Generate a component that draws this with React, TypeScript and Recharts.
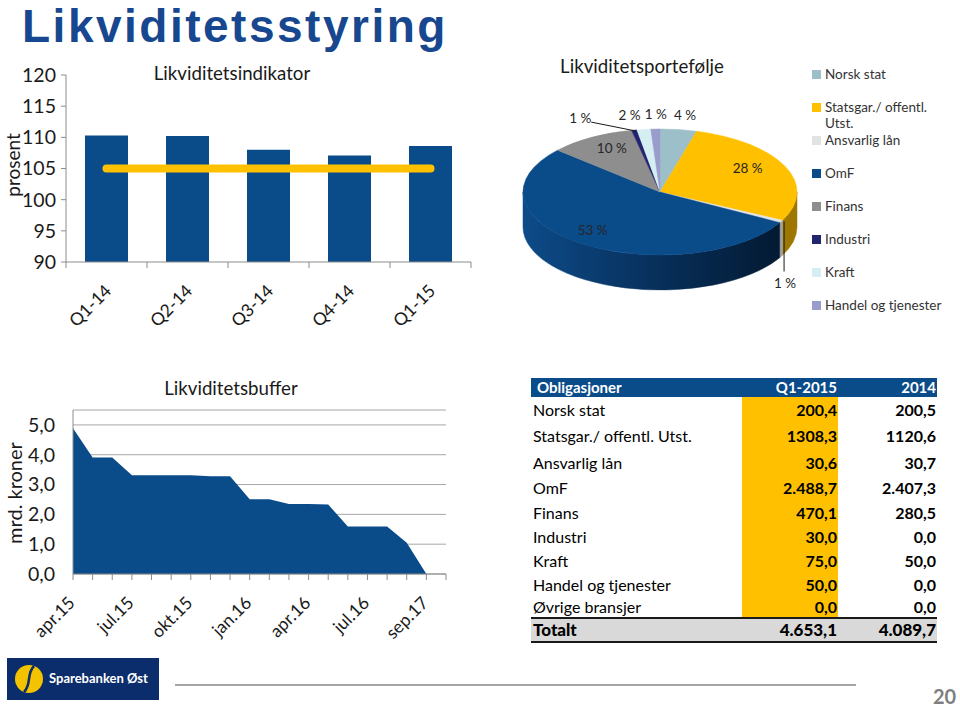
import React from 'react';
import {
  ComposedChart,
  Bar,
  Line,
  XAxis,
  YAxis,
  AreaChart,
  Area,
  CartesianGrid,
  PieChart,
  Pie,
  Legend
} from 'recharts';

// Likviditetsindikator (prosent)
const quarters = ['Q1-14', 'Q2-14', 'Q3-14', 'Q4-14', 'Q1-15'];
const indicatorValues = [110.3, 110.2, 108.0, 107.1, 108.6];
const indicatorTarget = [105, 105, 105, 105, 105];
const indicatorTicks = [90, 95, 100, 105, 110, 115, 120];

// Likviditetsbuffer (mrd. kroner)
const bufferMonths = [
  'apr.15', 'mai.15', 'jun.15', 'jul.15', 'aug.15', 'sep.15', 'okt.15',
  'nov.15', 'des.15', 'jan.16', 'feb.16', 'mar.16', 'apr.16', 'mai.16',
  'jun.16', 'jul.16', 'aug.16', 'sep.16', 'sep.17', 'okt.17'
];
const bufferValues = [
  4.89, 3.91, 3.91, 3.31, 3.31, 3.31, 3.31, 3.28, 3.28, 2.51,
  2.51, 2.35, 2.35, 2.33, 1.59, 1.59, 1.59, 1.05, 0, null
];
const bufferTicks = [0, 1, 2, 3, 4, 5];

// Likviditetsportefølje
const portfolioNames = [
  'Norsk stat',
  'Statsgar./ offentl. Utst.',
  'Ansvarlig lån',
  'OmF',
  'Finans',
  'Industri',
  'Kraft',
  'Handel og tjenester'
];
const portfolioValues = [200.4, 1308.3, 30.6, 2488.7, 470.1, 30.0, 75.0, 50.0];
const portfolioColors = ['#9DBFCA', '#FFC000', '#E2E2E2', '#0A4B8A', '#8E8E8E', '#23246E', '#D5EEF2', '#9A9CCB'];
const portfolioWallColors = ['#6E8E98', '#9E7700', '#A3A3A3', 'url(#omfWall)', '#5E5E5E', '#141540', '#9DB4B8', '#6A6C9A'];

// Obligasjoner table
const tableLabels = [...portfolioNames, 'Øvrige bransjer'];
const tableQ1 = ['200,4', '1308,3', '30,6', '2.488,7', '470,1', '30,0', '75,0', '50,0', '0,0'];
const table2014 = ['200,5', '1120,6', '30,7', '2.407,3', '280,5', '0,0', '50,0', '0,0', '0,0'];
const tableTotals = ['4.653,1', '4.089,7'];
const tableRowHeights = [26, 26, 27, 24, 25, 24, 24, 24, 20];

const FONT = 'Lato, "Open Sans", sans-serif';
const BLUE = '#0A4B8A';
const YELLOW = '#FFC000';
const AXIS_GRAY = '#8C8C8C';
const TEXT = '#1A1A1A';

// pie geometry (3D look: ellipse + side wall)
const PIE_RX = 137;
const PIE_RY = 63;
const PIE_DEPTH = 35;

const ell = (cx: number, cy: number, deg: number, k = 1) => {
  const r = (deg * Math.PI) / 180;
  return [cx + PIE_RX * k * Math.cos(r), cy - PIE_RY * k * Math.sin(r)];
};

const Slice3D = (props: any) => {
  const { cx, cy, startAngle, endAngle, fill } = props;
  if (startAngle === undefined || endAngle === undefined) return null;
  const [x1, y1] = ell(cx, cy, startAngle);
  const [x2, y2] = ell(cx, cy, endAngle);
  const large = Math.abs(startAngle - endAngle) > 180 ? 1 : 0;
  const sweep = endAngle < startAngle ? 1 : 0;
  const top = `M${cx},${cy} L${x1},${y1} A${PIE_RX},${PIE_RY} 0 ${large} ${sweep} ${x2},${y2} Z`;

  const wallColor = portfolioWallColors[portfolioColors.indexOf(fill)] || fill;
  const lo = Math.min(startAngle, endAngle);
  const hi = Math.max(startAngle, endAngle);
  const walls: string[] = [];
  [[-180, 0], [180, 360], [-540, -360]].forEach(([a0, b0]) => {
    const a = Math.max(lo, a0);
    const b = Math.min(hi, b0);
    if (b - a > 0.01) {
      const [bx, by] = ell(cx, cy, b);
      const [ax, ay] = ell(cx, cy, a);
      const lg = b - a > 180 ? 1 : 0;
      walls.push(
        `M${bx},${by} A${PIE_RX},${PIE_RY} 0 ${lg} 1 ${ax},${ay} L${ax},${ay + PIE_DEPTH} A${PIE_RX},${PIE_RY} 0 ${lg} 0 ${bx},${by + PIE_DEPTH} Z`
      );
    }
  });

  return (
    <g>
      {walls.map((d, i) => (
        <path key={i} d={d} fill={wallColor} stroke={wallColor} strokeWidth={0.5} />
      ))}
      <path d={top} fill={fill} stroke={fill} strokeWidth={0.5} />
    </g>
  );
};

// label placement per slice (radial factor on the ellipse, or leader line)
const pieLabelStyle: any[] = [
  { k: 1.14, dx: 4 },
  { k: 0.7 },
  { leader: 'down' },
  { k: 0.85 },
  { k: 0.7 },
  { leader: 'left' },
  { k: 1.14, dx: -12 },
  { k: 1.14, dx: 1 }
];

const renderPieLabel = (props: any) => {
  const { cx, cy, midAngle, percent } = props;
  const idx = props.index ?? portfolioNames.indexOf(props.name);
  const cfg = pieLabelStyle[idx] || { k: 0.7 };
  const text = `${Math.round(percent * 100)} %`;
  const common = { fontSize: 13.5, fill: '#262626', fontFamily: FONT, textAnchor: 'middle' as const, dominantBaseline: 'central' as const };

  if (cfg.leader === 'down') {
    const [px, py] = ell(cx, cy, midAngle);
    return (
      <g>
        <line x1={px + 3} y1={py} x2={px + 3} y2={py + 50} stroke="#1A1A1A" strokeWidth={1} />
        <text x={px + 4} y={py + 62} {...common}>{text}</text>
      </g>
    );
  }
  if (cfg.leader === 'left') {
    const [px, py] = ell(cx, cy, midAngle);
    return (
      <g>
        <line x1={px - 43} y1={py - 8} x2={px + 2} y2={py + 1} stroke="#1A1A1A" strokeWidth={1} />
        <text x={px - 54} y={py - 12} {...common}>{text}</text>
      </g>
    );
  }
  const [x, y] = ell(cx, cy, midAngle, cfg.k);
  return (
    <text x={x + (cfg.dx || 0)} y={y - 6} {...common}>{text}</text>
  );
};

const PortfolioLegend = ({ payload }: any) => {
  const items = [...(payload || [])].sort(
    (a: any, b: any) => portfolioNames.indexOf(a.value) - portfolioNames.indexOf(b.value)
  );
  return (
    <div style={{ width: 148, fontFamily: FONT }}>
      {items.map((p: any) => (
        <div
          key={p.value}
          style={{ display: 'flex', alignItems: 'flex-start', height: 33, fontSize: 13.5, lineHeight: '16px', color: '#333' }}
        >
          <span style={{ width: 9, height: 9, background: p.color, marginTop: 4, marginRight: 4, flex: 'none' }} />
          <span style={{ maxWidth: 120 }}>{p.value}</span>
        </div>
      ))}
    </div>
  );
};

const QUARTER_HALF = (471 - 66) / quarters.length / 2;

const QuarterTick = (props: any) => {
  const { x, y, payload, index } = props;
  const half = payload?.offset || QUARTER_HALF;
  return (
    <g>
      <line x1={x - half} y1={y} x2={x - half} y2={y + 6} stroke={AXIS_GRAY} />
      {index === quarters.length - 1 && (
        <line x1={x + half} y1={y} x2={x + half} y2={y + 6} stroke={AXIS_GRAY} />
      )}
      <text
        x={x + 6}
        y={y + 30}
        transform={`rotate(-45, ${x + 6}, ${y + 30})`}
        textAnchor="end"
        fontSize={17.5}
        fill={TEXT}
        fontFamily={FONT}
      >
        {payload.value}
      </text>
    </g>
  );
};

const MonthTick = (props: any) => {
  const { x, y, payload, index } = props;
  return (
    <g>
      <line x1={x} y1={y} x2={x} y2={y + 6} stroke={AXIS_GRAY} />
      {index % 3 === 0 && (
        <text
          x={x + 3}
          y={y + 30}
          transform={`rotate(-45, ${x + 3}, ${y + 30})`}
          textAnchor="end"
          fontSize={17.5}
          fill={TEXT}
          fontFamily={FONT}
        >
          {payload.value}
        </text>
      )}
    </g>
  );
};

const Txt = ({ x, y, size = 18.7, rotate = 0, children, style }: any) => (
  <div
    style={{
      position: 'absolute',
      left: x,
      top: y,
      transform: `translate(-50%, -50%) rotate(${rotate}deg)`,
      fontSize: size,
      lineHeight: 1,
      whiteSpace: 'nowrap',
      color: TEXT,
      ...style
    }}
  >
    {children}
  </div>
);

const App = () => {
  const indicatorData = quarters.map((q, i) => ({
    quarter: q,
    value: indicatorValues[i],
    target: indicatorTarget[i]
  }));

  const bufferData = bufferMonths.map((m, i) => ({ month: m, value: bufferValues[i] }));

  const portfolioData = portfolioNames.map((n, i) => ({
    name: n,
    value: portfolioValues[i],
    fill: portfolioColors[i]
  }));

  const cell = (w: number, align: 'left' | 'right', extra: any = {}) => ({
    width: w,
    textAlign: align,
    boxSizing: 'border-box' as const,
    ...extra
  });

  return (
    <div
      style={{
        position: 'absolute',
        left: 0,
        top: 0,
        width: 960,
        height: 708,
        background: '#fff',
        fontFamily: FONT,
        overflow: 'hidden'
      }}
    >
      {/* slide title */}
      <div
        style={{
          position: 'absolute',
          left: 22,
          top: 1,
          fontFamily: '"Liberation Sans", Arial, sans-serif',
          fontWeight: 'bold',
          fontSize: 46,
          lineHeight: '50px',
          letterSpacing: 2.5,
          color: '#17478F',
          whiteSpace: 'nowrap'
        }}
      >
        Likviditetsstyring
      </div>

      {/* Likviditetsindikator */}
      <div style={{ position: 'absolute', left: 0, top: 50 }}>
        <ComposedChart width={480} height={290} data={indicatorData} margin={{ top: 25, right: 9, bottom: 0, left: 0 }}>
          <XAxis
            dataKey="quarter"
            height={78}
            interval={0}
            tickLine={false}
            tickSize={0}
            tickMargin={0}
            stroke={AXIS_GRAY}
            tick={(p: any) => <QuarterTick {...p} />}
          />
          <YAxis
            width={66}
            domain={[90, 120]}
            ticks={indicatorTicks}
            allowDataOverflow
            tickSize={5}
            tickMargin={5}
            stroke={AXIS_GRAY}
            tick={{ fontSize: 19.5, fill: TEXT, fontFamily: FONT }}
          />
          <Bar dataKey="value" fill={BLUE} barSize={43} isAnimationActive={false} />
          <Line
            dataKey="target"
            stroke={YELLOW}
            strokeWidth={8}
            strokeLinecap="round"
            dot={false}
            activeDot={false}
            isAnimationActive={false}
          />
        </ComposedChart>
      </div>
      <Txt x={232} y={73}>Likviditetsindikator</Txt>
      <Txt x={12} y={165} size={19} rotate={-90}>prosent</Txt>

      {/* Likviditetsportefølje */}
      <div style={{ position: 'absolute', left: 500, top: 55 }}>
        <PieChart width={460} height={250} margin={{ top: 0, right: 0, bottom: 0, left: 0 }}>
          <defs>
            <linearGradient id="omfWall" x1="0" y1="0" x2="1" y2="0">
              <stop offset="0" stopColor="#0D4B88" />
              <stop offset="0.55" stopColor="#072E58" />
              <stop offset="1" stopColor="#031A33" />
            </linearGradient>
          </defs>
          <Pie
            data={portfolioData}
            dataKey="value"
            nameKey="name"
            cx={160}
            cy={137}
            outerRadius={PIE_RX}
            startAngle={90}
            endAngle={-270}
            stroke="none"
            shape={Slice3D}
            inactiveShape={Slice3D}
            activeShape={Slice3D}
            label={renderPieLabel}
            labelLine={false}
            isAnimationActive={false}
          />
          <Legend
            layout="vertical"
            align="right"
            verticalAlign="top"
            itemSorter={(item: any) => portfolioNames.indexOf(item.value)}
            content={PortfolioLegend}
            wrapperStyle={{ left: 312, top: 11, width: 148 }}
          />
        </PieChart>
      </div>
      <Txt x={642} y={66}>Likviditetsportefølje</Txt>

      {/* Likviditetsbuffer */}
      <div style={{ position: 'absolute', left: 0, top: 380 }}>
        <AreaChart width={460} height={270} data={bufferData} margin={{ top: 30, right: 14, bottom: 0, left: 0 }}>
          <CartesianGrid vertical={false} stroke="#A6A6A6" />
          <XAxis
            dataKey="month"
            height={76}
            interval={0}
            tickLine={false}
            tickSize={0}
            tickMargin={0}
            stroke={AXIS_GRAY}
            tick={(p: any) => <MonthTick {...p} />}
          />
          <YAxis
            width={73}
            domain={[0, 5.5]}
            ticks={bufferTicks}
            tickFormatter={(v: number) => v.toFixed(1).replace('.', ',')}
            tickLine={false}
            tickSize={0}
            tickMargin={18}
            stroke={AXIS_GRAY}
            tick={{ fontSize: 19.5, fill: TEXT, fontFamily: FONT }}
          />
          <Area
            type="linear"
            dataKey="value"
            fill={BLUE}
            fillOpacity={1}
            stroke="none"
            isAnimationActive={false}
          />
        </AreaChart>
      </div>
      <Txt x={231} y={388}>Likviditetsbuffer</Txt>
      <Txt x={14} y={493} size={20} rotate={-90}>mrd. kroner</Txt>

      {/* Obligasjoner table */}
      <div style={{ position: 'absolute', left: 531, top: 378, width: 406, fontSize: 16, color: '#000' }}>
        <div style={{ display: 'flex', height: 19, lineHeight: '19px', background: BLUE, color: '#fff', fontWeight: 'bold', fontSize: 15 }}>
          <div style={cell(211, 'left', { paddingLeft: 6 })}>Obligasjoner</div>
          <div style={cell(96, 'right', { paddingRight: 1 })}>Q1-2015</div>
          <div style={cell(99, 'right', { paddingRight: 1 })}>2014</div>
        </div>
        {tableLabels.map((label, i) => (
          <div key={label} style={{ display: 'flex', height: tableRowHeights[i], lineHeight: `${tableRowHeights[i]}px` }}>
            <div style={cell(211, 'left', { paddingLeft: 2 })}>{label}</div>
            <div style={cell(96, 'right', { paddingRight: 1, background: YELLOW, fontWeight: 'bold' })}>{tableQ1[i]}</div>
            <div style={cell(99, 'right', { paddingRight: 1, fontWeight: 'bold' })}>{table2014[i]}</div>
          </div>
        ))}
        <div
          style={{
            display: 'flex',
            height: 22,
            lineHeight: '22px',
            background: '#D9D9D9',
            borderTop: '2px solid #1A1A1A',
            borderBottom: '2px solid #1A1A1A',
            fontWeight: 900,
            fontSize: 17
          }}
        >
          <div style={cell(211, 'left', { paddingLeft: 2 })}>Totalt</div>
          <div style={cell(96, 'right', { paddingRight: 1 })}>{tableTotals[0]}</div>
          <div style={cell(99, 'right', { paddingRight: 1 })}>{tableTotals[1]}</div>
        </div>
      </div>

      {/* footer */}
      <div style={{ position: 'absolute', left: 7, top: 658, width: 152, height: 42, background: '#0C2D6B' }}>
        <svg width={152} height={42}>
          <ellipse cx={22} cy={21} rx={14} ry={14} fill="#F4C300" />
          <path d="M 27 8 C 19 16, 25 26, 17 34" stroke="#0C2D6B" strokeWidth={2.5} fill="none" />
          <text x={42} y={25} fill="#fff" fontSize={13} fontWeight="bold" fontFamily={FONT}>
            Sparebanken Øst
          </text>
        </svg>
      </div>
      <div style={{ position: 'absolute', left: 175, top: 684, width: 681, height: 2, background: '#A6A6A6' }} />
      <div
        style={{
          position: 'absolute',
          left: 933,
          top: 686,
          fontSize: 20,
          fontWeight: 'bold',
          color: '#7F7F7F',
          lineHeight: '20px'
        }}
      >
        20
      </div>
    </div>
  );
};

export default App;
